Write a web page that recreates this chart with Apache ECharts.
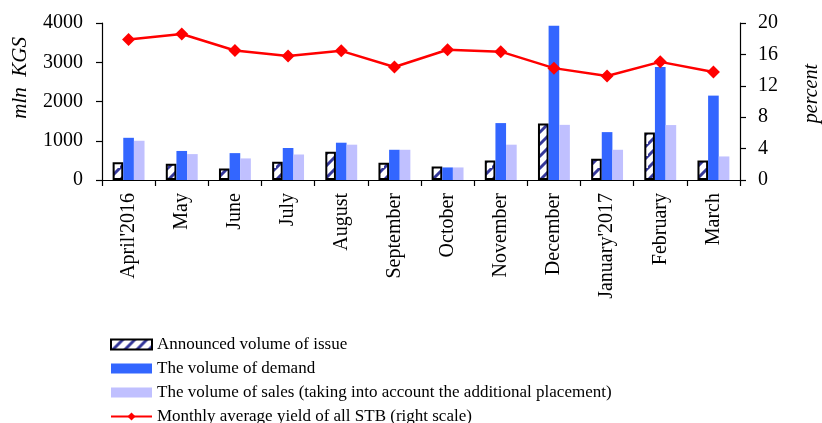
<!DOCTYPE html>
<html>
<head>
<meta charset="utf-8">
<script src="https://cdn.jsdelivr.net/npm/echarts@6/dist/echarts.min.js"></script>
<style>
  html, body { margin: 0; padding: 0; background: #fff; }
  #chart { width: 822px; height: 423px; }
</style>
</head>
<body>
<div id="chart"></div>
<script>
const months = ["April'2016", 'May', 'June', 'July', 'August', 'September', 'October',
    'November', 'December', "January'2017", 'February', 'March'];
const announced = [450, 415, 290, 465, 720, 440, 345, 500, 1440, 540, 1210, 500];
const demand = [1075, 740, 685, 815, 950, 770, 320, 1450, 3930, 1220, 2880, 2150];
const sales = [1000, 660, 550, 650, 900, 770, 320, 900, 1405, 770, 1400, 600];
const yieldPct = [17.9, 18.6, 16.5, 15.8, 16.45, 14.4, 16.6, 16.35, 14.25, 13.25, 15.05, 13.75];

const leftTicks = { min: 0, max: 4000, interval: 1000 };
const rightTicks = { min: 0, max: 20, interval: 4 };

const serif = "'Liberation Serif', 'Times New Roman', serif";

// hatched fill for the announced volume bars
function makeHatch() {
    const s = 12;
    const c = document.createElement('canvas');
    c.width = s; c.height = s;
    const ctx = c.getContext('2d');
    ctx.fillStyle = '#ffffff';
    ctx.fillRect(0, 0, s, s);
    ctx.strokeStyle = '#34379a';
    ctx.lineWidth = 3;
    ctx.beginPath();
    ctx.moveTo(-2, s + 2); ctx.lineTo(s + 2, -2);
    ctx.moveTo(-s - 2, s + 2); ctx.lineTo(2, -2);
    ctx.moveTo(s - 2, 2 * s + 2); ctx.lineTo(2 * s + 2, s - 2);
    ctx.stroke();
    return c;
}

document.addEventListener('DOMContentLoaded', function() {
    const chart = echarts.init(document.getElementById('chart'));
    const hatch = makeHatch();

    const axisLine = { show: true, lineStyle: { color: '#000', width: 1.2 } };
    const axisTick = { show: true, inside: false, length: 6, lineStyle: { color: '#000', width: 1.2 } };
    const tickLabel = { color: '#000', fontFamily: serif, fontSize: 20 };

    chart.setOption({
        animation: false,
        grid: { left: 102, right: 82, top: 23, bottom: 243, containLabel: false },
        legend: {
            orient: 'vertical',
            left: 105,
            top: 331,
            height: 100,
            itemWidth: 41,
            itemHeight: 10,
            itemGap: 7,
            textStyle: { color: '#000', fontFamily: serif, fontSize: 17, lineHeight: 17 },
            data: [
                { name: 'Announced volume of issue', icon: 'rect' },
                { name: 'The volume of demand', icon: 'rect' },
                { name: 'The volume of sales (taking into account the additional placement)', icon: 'rect' },
                { name: 'Monthly average yield of all STB (right scale)' }
            ]
        },
        xAxis: {
            type: 'category',
            data: months,
            axisLine: axisLine,
            axisTick: { ...axisTick, alignWithLabel: false },
            axisLabel: { ...tickLabel, rotate: 90, margin: 13, interval: 0 },
            splitLine: { show: false }
        },
        yAxis: [
            {
                type: 'value',
                ...leftTicks,
                position: 'left',
                axisLine: axisLine,
                axisTick: axisTick,
                axisLabel: { ...tickLabel, margin: 19, formatter: v => String(v) },
                splitLine: { show: false }
            },
            {
                type: 'value',
                ...rightTicks,
                position: 'right',
                axisLine: axisLine,
                axisTick: axisTick,
                axisLabel: { ...tickLabel, margin: 18, formatter: v => String(v) },
                splitLine: { show: false }
            }
        ],
        graphic: [
            {
                type: 'text', left: 10, top: 37, rotation: Math.PI / 2,
                style: { text: 'mln  KGS', fontFamily: serif, fontStyle: 'italic', fontSize: 21, fill: '#000' }
            },
            {
                type: 'text', left: 802, top: 64, rotation: Math.PI / 2,
                style: { text: 'percent', fontFamily: serif, fontStyle: 'italic', fontSize: 20, fill: '#000' }
            }
        ],
        series: [
            {
                name: 'Announced volume of issue',
                type: 'bar',
                data: announced,
                barGap: '0%',
                barCategoryGap: '40%',
                itemStyle: { color: { image: hatch, repeat: 'repeat' }, borderColor: '#000', borderWidth: 2 }
            },
            {
                name: 'The volume of demand',
                type: 'bar',
                data: demand,
                itemStyle: { color: '#3366ff' }
            },
            {
                name: 'The volume of sales (taking into account the additional placement)',
                type: 'bar',
                data: sales,
                itemStyle: { color: '#c0c0ff' }
            },
            {
                name: 'Monthly average yield of all STB (right scale)',
                type: 'line',
                yAxisIndex: 1,
                data: yieldPct,
                symbol: 'diamond',
                symbolSize: 13,
                lineStyle: { color: '#ff0000', width: 2.5 },
                itemStyle: { color: '#ff0000' },
                z: 5
            }
        ]
    });
});
</script>
</body>
</html>
